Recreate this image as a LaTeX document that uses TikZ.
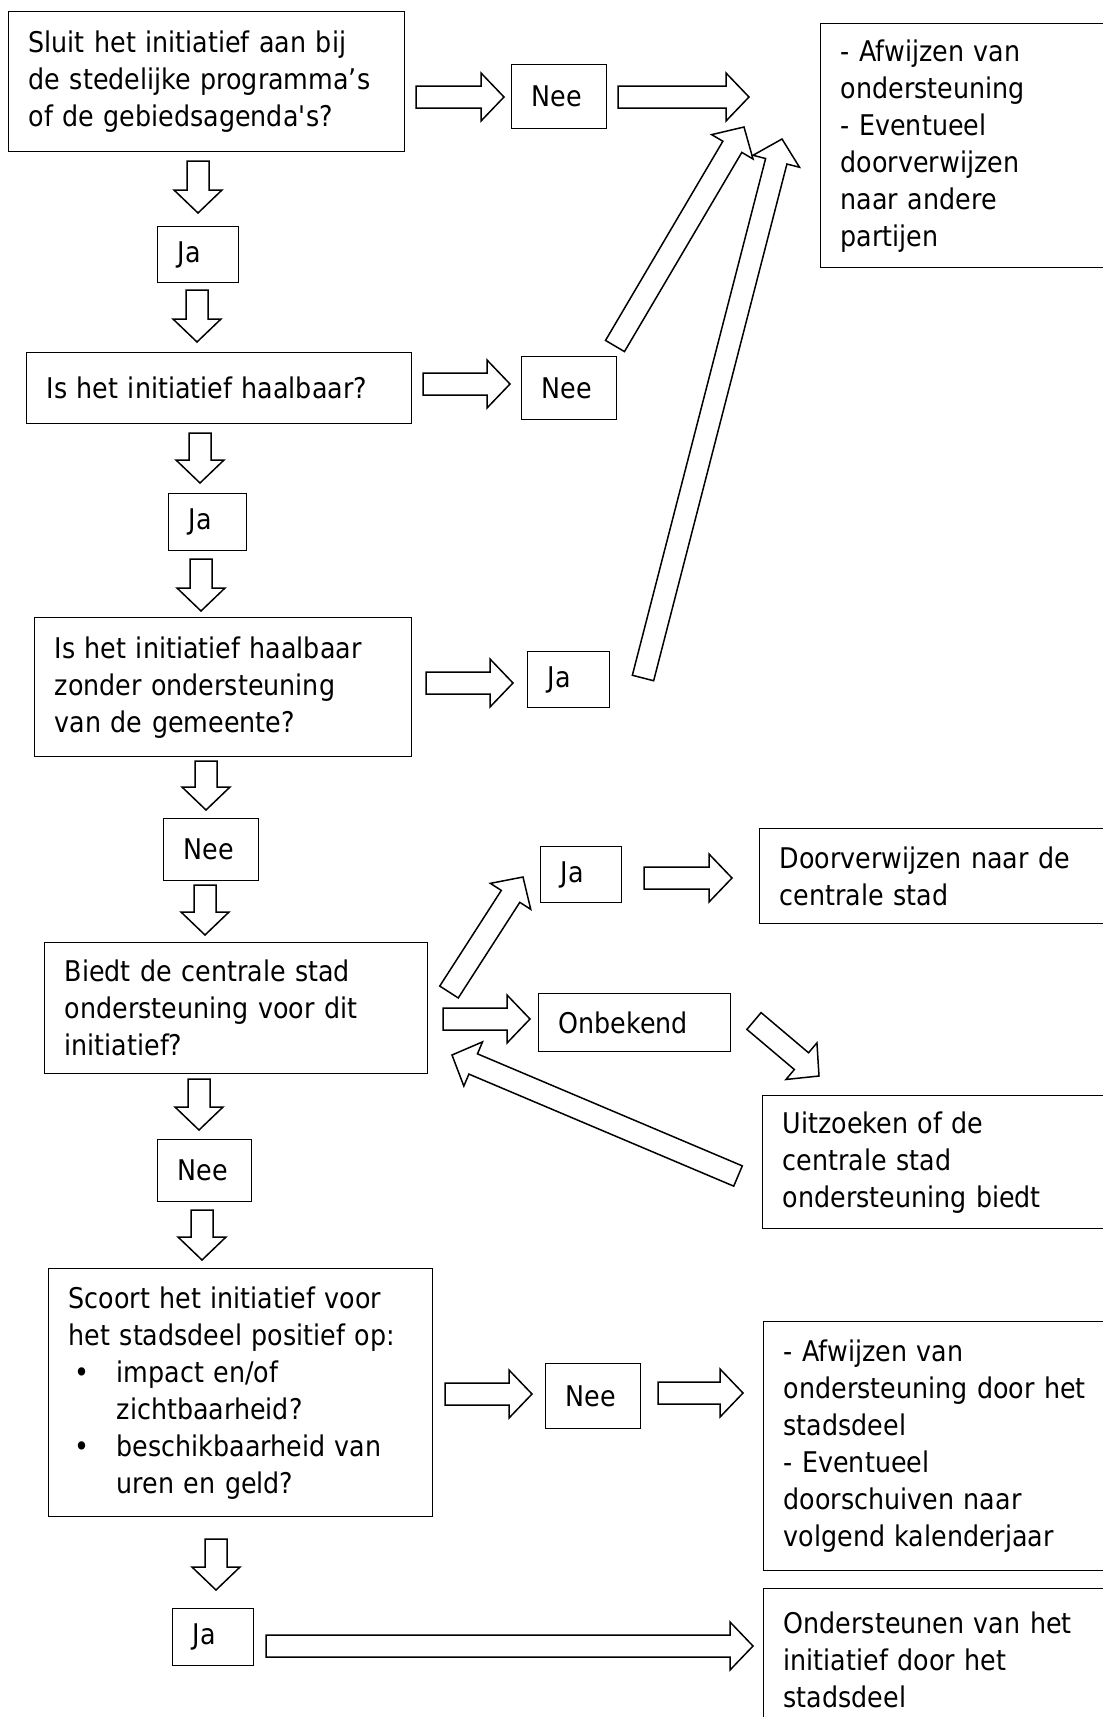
\documentclass[tikz,border=0pt]{standalone}
\usepackage{fontspec}
\setmainfont{DejaVu Sans}[FakeStretch=0.89]
\usetikzlibrary{calc}

% blokpijl van #1 naar #2
\newcommand{\blokpijl}[2]{%
  \draw[pijl] ($(#1)!11pt!90:(#2)$) -- ($(#2)!23pt!(#1)!11pt!-90:(#1)$)
    -- ($(#2)!23pt!(#1)!24pt!-90:(#1)$) -- (#2)
    -- ($(#2)!23pt!(#1)!24pt!90:(#1)$) -- ($(#2)!23pt!(#1)!11pt!90:(#1)$)
    -- ($(#1)!11pt!-90:(#2)$) -- cycle;
}

\begin{document}
\begin{tikzpicture}[x=1pt,y=-1pt,
    vak/.style={draw, line width=1.4pt, anchor=north west, align=left,
      inner xsep=20pt, inner ysep=0pt, font=\fontsize{28.5}{37}\selectfont},
    pijl/.style={line width=1.5pt, fill=white}]
\useasboundingbox (0,0) rectangle (1103,1717);

% linker kolom
\node[vak, text width=356pt, minimum height=140pt] (q1) at (8,11)
  {Sluit het initiatief aan bij\\de stedelijke programma’s\\of de gebiedsagenda\textquotesingle s?};
\node[vak, text width=41pt, minimum height=56pt] (ja1) at (157,226) {Ja};
\node[vak, text width=345pt, minimum height=71pt] (q2) at (26,352) {Is het initiatief haalbaar?};
\node[vak, text width=38pt, minimum height=57pt] (ja2) at (168,493) {Ja};
\node[vak, text width=337pt, minimum height=139pt] (q3) at (34,617)
  {Is het initiatief haalbaar\\zonder ondersteuning\\van de gemeente?};
\node[vak, text width=55pt, minimum height=62pt] (nee3) at (163,818) {Nee};
\node[vak, text width=343pt, minimum height=131pt] (q4) at (44,942)
  {Biedt de centrale stad\\ondersteuning voor dit\\initiatief?};
\node[vak, text width=54pt, minimum height=62pt] (nee4) at (157,1139) {Nee};
\node[vak, text width=344pt, minimum height=248pt] (q5) at (48,1268)
  {Scoort het initiatief voor\\het stadsdeel positief op:\\
   \hspace*{6pt}\makebox[42pt][l]{•}impact en/of\\\hspace*{48pt}zichtbaarheid?\\
   \hspace*{6pt}\makebox[42pt][l]{•}beschikbaarheid van\\\hspace*{48pt}uren en geld?};
\node[vak, text width=41pt, minimum height=57pt] (ja5) at (172,1608) {Ja};

% middelste kolom
\node[vak, text width=55pt, minimum height=64pt] (nee1) at (511,64) {Nee};
\node[vak, text width=55pt, minimum height=63pt] (nee2) at (521,356) {Nee};
\node[vak, text width=42pt, minimum height=56pt] (ja3) at (527,651) {Ja};
\node[vak, text width=41pt, minimum height=56pt] (ja4) at (540,846) {Ja};
\node[vak, text width=152pt, minimum height=58pt] (onbekend) at (538,993) {Onbekend};
\node[vak, text width=55pt, minimum height=65pt] (nee5) at (545,1363) {Nee};

% rechter kolom
\node[vak, text width=270pt, minimum height=244pt] (afwijzen1) at (820,23)
  {- Afwijzen van\\ondersteuning\\- Eventueel\\doorverwijzen\\naar andere\\partijen};
\node[vak, text width=331pt, minimum height=95pt] (centraal) at (759,828)
  {Doorverwijzen naar de\\centrale stad};
\node[vak, text width=328pt, minimum height=133pt] (uitzoeken) at (762,1095)
  {Uitzoeken of de\\centrale stad\\ondersteuning biedt};
\node[vak, text width=327pt, minimum height=249pt] (afwijzen2) at (763,1321)
  {- Afwijzen van\\ondersteuning door het\\stadsdeel\\- Eventueel\\doorschuiven naar\\volgend kalenderjaar};
\node[vak, text width=327pt, minimum height=142pt] (steunen) at (763,1588)
  {Ondersteunen van het\\initiatief door het\\stadsdeel};

% pijlen omlaag
\coordinate (d1s) at (198,161);  \coordinate (d1e) at (198,213);
\coordinate (d2s) at (197,290);  \coordinate (d2e) at (197,342);
\coordinate (d3s) at (200,433);  \coordinate (d3e) at (200,483);
\coordinate (d4s) at (201,559);  \coordinate (d4e) at (201,611);
\coordinate (d5s) at (206,761);  \coordinate (d5e) at (206,810);
\coordinate (d6s) at (205,885);  \coordinate (d6e) at (205,935);
\coordinate (d7s) at (199,1079); \coordinate (d7e) at (199,1130);
\coordinate (d8s) at (202,1210); \coordinate (d8e) at (202,1260);
\coordinate (d9s) at (216,1539); \coordinate (d9e) at (216,1590);
% pijlen naar rechts
\coordinate (r1s) at (416,97);   \coordinate (r1e) at (504,97);
\coordinate (r2s) at (618,97);   \coordinate (r2e) at (749,97);
\coordinate (r3s) at (423,384);  \coordinate (r3e) at (510,384);
\coordinate (r4s) at (426,683);  \coordinate (r4e) at (513,683);
\coordinate (r5s) at (644,878);  \coordinate (r5e) at (732,878);
\coordinate (r6s) at (443,1019); \coordinate (r6e) at (530,1019);
\coordinate (r7s) at (445,1394); \coordinate (r7e) at (532,1394);
\coordinate (r8s) at (658,1393); \coordinate (r8e) at (743,1393);
\coordinate (r9s) at (266,1646); \coordinate (r9e) at (753,1646);
% schuine pijlen
\coordinate (s1s) at (615,346);  \coordinate (s1e) at (744,127);
\coordinate (s2s) at (643,678);  \coordinate (s2e) at (782,139);
\coordinate (s3s) at (449,992);  \coordinate (s3e) at (523,877);
\coordinate (s4s) at (754,1021); \coordinate (s4e) at (819,1076);
\coordinate (s5s) at (738,1176); \coordinate (s5e) at (452,1055);

\foreach \p in {d1,d2,d3,d4,d5,d6,d7,d8,d9,r1,r2,r3,r4,r5,r6,r7,r8,r9,s1,s2,s3,s4,s5}
  \blokpijl{\p s}{\p e};
\end{tikzpicture}
\end{document}
